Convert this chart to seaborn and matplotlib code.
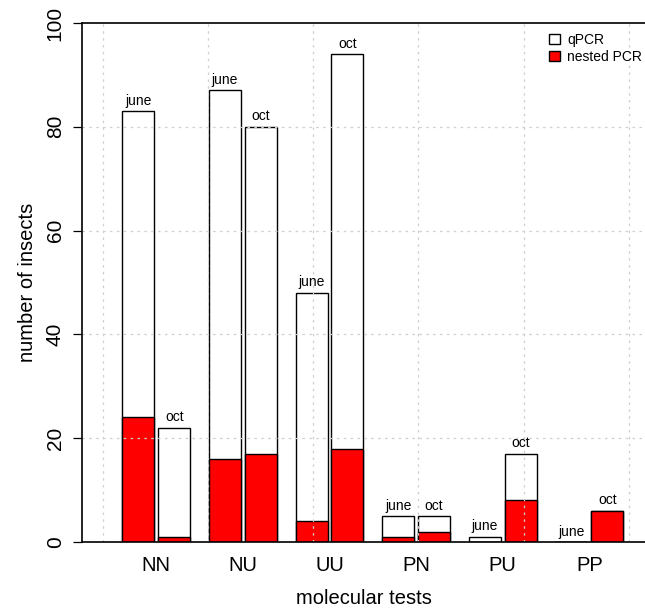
import matplotlib
matplotlib.use("Agg")
import matplotlib.pyplot as plt
import seaborn as sns
import pandas as pd
import numpy as np
from matplotlib.patches import Patch

# ---- data ----
tests = ["NN", "NU", "UU", "PN", "PU", "PP"]
months = ["june", "oct"]
qpcr_june = [83, 87, 48, 5, 1, 0]
qpcr_oct = [22, 80, 94, 5, 17, 6]
nested_june = [24, 16, 4, 1, 0, 0]
nested_oct = [1, 17, 18, 2, 8, 6]
y_ticks = [0, 20, 40, 60, 80, 100]
legend_labels = ["qPCR", "nested PCR"]

df = pd.DataFrame({
    "test": tests * 2,
    "month": [months[0]] * len(tests) + [months[1]] * len(tests),
    "qpcr": qpcr_june + qpcr_oct,
    "nested": nested_june + nested_oct,
})

sns.set_style("white")
plt.rcParams["font.family"] = ["Liberation Sans", "DejaVu Sans"]
plt.rcParams["text.color"] = "black"
plt.rcParams["axes.labelcolor"] = "black"
plt.rcParams["xtick.color"] = "black"
plt.rcParams["ytick.color"] = "black"

W, H = 645, 608
fig = plt.figure(figsize=(W / 100, H / 100), dpi=100)
ax = fig.add_axes([82 / W, 66 / H, (W - 82) / W, 519 / H])

common = dict(x="test", hue="month", order=tests, hue_order=months,
              edgecolor="black", linewidth=1.0, width=0.831, gap=0.111,
              errorbar=None, legend=False, ax=ax, saturation=1)
sns.barplot(data=df, y="qpcr", palette={"june": "white", "oct": "white"}, **common)
sns.barplot(data=df, y="nested", palette={"june": "#ff0000", "oct": "#ff0000"}, **common)

# month labels above the white (total) bars
for cont, m in zip(ax.containers[:2], months):
    for bar in cont:
        ax.annotate(m, (bar.get_x() + bar.get_width() / 2, bar.get_height()),
                    xytext=(0, 2.5), textcoords="offset points",
                    ha="center", va="bottom", fontsize=10, zorder=6)

# axes range
group_px = 86.6
center0_px = 156.3
ax.set_xlim((82 - center0_px) / group_px, (W - center0_px) / group_px)
ax.set_ylim(0, 100)

# grid drawn on top
grid_kw = dict(color="#cfcfcf", lw=0.9, dashes=(2, 3.5), zorder=5)
for yv in y_ticks[1:-1]:
    ax.axhline(yv, **grid_kw)
for px in [103, 208, 313, 418, 524, 629]:
    ax.axvline((px - center0_px) / group_px, **grid_kw)

ax.set_yticks(y_ticks)
ax.set_yticklabels([str(v) for v in y_ticks], rotation=90, va="center")
ax.tick_params(axis="y", length=6.5, width=0.9, pad=6, labelsize=15, left=True, color="black")
ax.tick_params(axis="x", length=0, pad=10, labelsize=14.5)
ax.set_xlabel("molecular tests", fontsize=14.5, labelpad=10)
ax.set_ylabel("number of insects", fontsize=14.5, labelpad=6)

for s in ["top", "left", "bottom"]:
    ax.spines[s].set_visible(True)
    ax.spines[s].set_color("black")
    ax.spines[s].set_linewidth(1.2)
    ax.spines[s].set_zorder(7)
ax.spines["right"].set_visible(False)

handles = [Patch(facecolor="white", edgecolor="black", linewidth=1.0),
           Patch(facecolor="#ff0000", edgecolor="black", linewidth=1.0)]
ax.legend(handles, legend_labels, loc="upper left",
          bbox_to_anchor=((549 - 82) / (W - 82), (542 - 33) / 519),
          frameon=False, fontsize=10, handlelength=0.8, handleheight=0.8,
          handletextpad=0.5, labelspacing=0.2, borderaxespad=0, borderpad=0)

fig.savefig("out.png", dpi=100)
